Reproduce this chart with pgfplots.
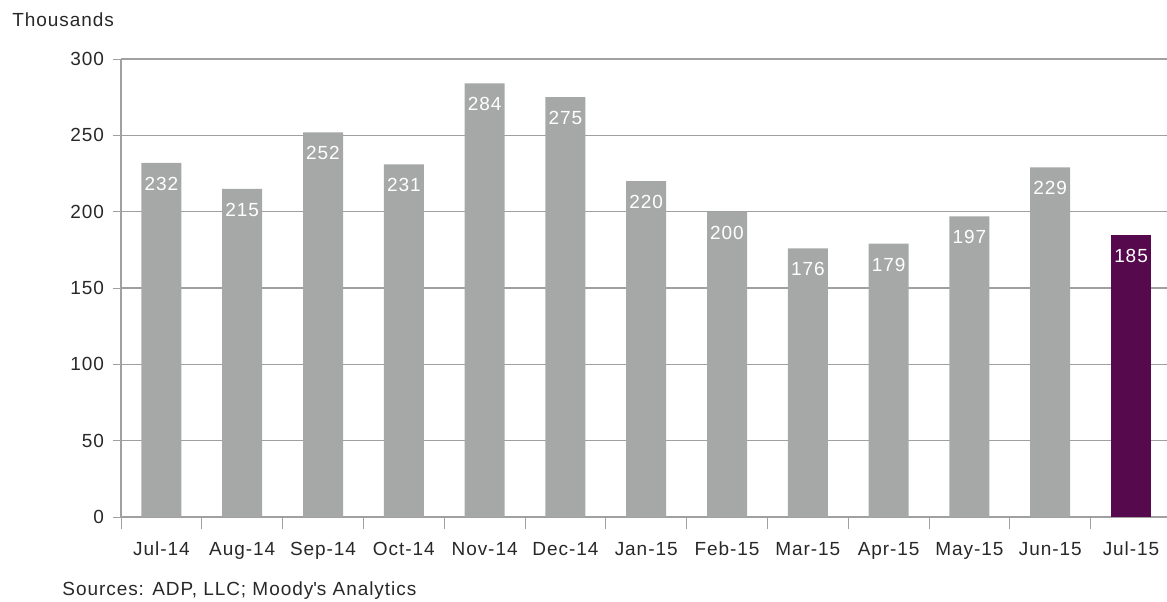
\documentclass[border=0pt]{standalone}
\usepackage{fontspec}
\setmainfont[LetterSpace=5]{Liberation Sans}
\usepackage{pgfplots}
\pgfplotsset{compat=1.18}
\definecolor{bargray}{RGB}{166,168,167}
\definecolor{barpurple}{RGB}{86,9,76}
\definecolor{gridgray}{RGB}{160,160,160}
\definecolor{txt}{RGB}{40,40,40}
\begin{document}
\begin{tikzpicture}
\useasboundingbox (-60.5pt,-42pt) rectangle (523pt,258.5pt);
\begin{axis}[
  scale only axis,
  width=523pt, height=229pt,
  xmin=-0.5, xmax=12.445,
  ymin=0, ymax=300,
  ytick={0,50,...,300},
  xtick={0,...,12},
  xticklabels={Jul-14,Aug-14,Sep-14,Oct-14,Nov-14,Dec-14,Jan-15,Feb-15,Mar-15,Apr-15,May-15,Jun-15,Jul-15},
  minor xtick={-0.5,0.5,...,11.5},
  major x tick style={draw=none},
  minor x tick style={draw=gridgray, thin},
  minor tick length=6pt,
  xtick align=center,
  y tick style={draw=gridgray, thin},
  major tick length=4pt,
  ytick align=outside,
  ymajorgrids,
  grid style={draw=gridgray, line width=0.6pt},
  axis x line*=bottom,
  axis y line*=left,
  axis line style={draw=gridgray, line width=0.6pt, -},
  tick label style={font=\fontsize{9.5}{11}\selectfont, text=txt},
  /pgf/number format/assume math mode=true,
  yticklabel style={xshift=-1pt},
  xticklabel style={yshift=-5pt},
  ybar, bar width=20pt, bar shift=0pt,
  nodes near coords,
  nodes near coords style={anchor=center, yshift=-10.5pt, text=white, font=\fontsize{9.5}{11}\selectfont},
]
\addplot[fill=bargray, draw=none] coordinates {
  (0,232) (1,215) (2,252) (3,231) (4,284) (5,275) (6,220)
  (7,200) (8,176) (9,179) (10,197) (11,229)
};
\addplot[fill=barpurple, draw=none] coordinates {(12,185)};
\end{axis}
\node[anchor=west, text=txt, font=\fontsize{9.5}{11}\selectfont, inner sep=0pt] at (-54.5pt,248.5pt) {Thousands};
\node[anchor=west, text=txt, font=\fontsize{9.5}{11}\selectfont, inner sep=0pt] at (-29.5pt,-37pt) {Sources: ADP, LLC; Moody\textquotesingle s Analytics};
\end{tikzpicture}
\end{document}
